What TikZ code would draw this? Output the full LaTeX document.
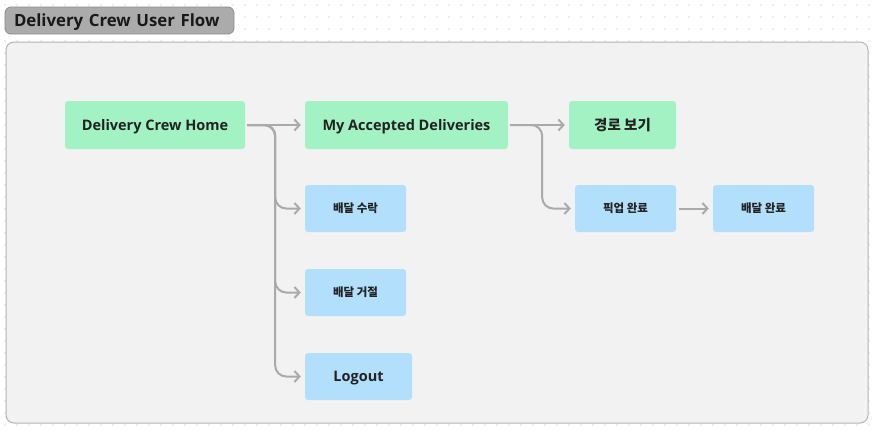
\documentclass[tikz,border=0pt]{standalone}
\usepackage{fontspec}
\setmainfont{Open Sans}
\newfontfamily\kr{Noto Sans CJK KR}
\usetikzlibrary{arrows.meta}
\definecolor{grn}{HTML}{A3F2C4}
\definecolor{blu}{HTML}{B2DFFC}
\definecolor{panel}{HTML}{F2F2F2}
\definecolor{pborder}{HTML}{B4B4B4}
\definecolor{conn}{HTML}{AAAAAA}
\definecolor{txt}{HTML}{222222}
\definecolor{dotc}{HTML}{DDDDDD}
\tikzset{
  box/.style={rounded corners=3pt, draw=none, text=txt, font=\bfseries, inner sep=0pt},
  gbox/.style={box, fill=grn},
  bbox/.style={box, fill=blu},
  lat/.style={font=\fontsize{14.5}{16}\selectfont\bfseries, text height=10.4pt, text depth=0pt},
  krs/.style={font=\kr\fontsize{11.5}{14}\selectfont\bfseries},
  conn/.style={draw=conn, line width=2pt, rounded corners=11pt, -{Straight Barb[length=5pt,width=11pt,line width=2pt]}},
}
\begin{document}
\begin{tikzpicture}[x=1pt,y=-1pt]
\useasboundingbox (0,0) rectangle (876,432);
\fill[white] (0,0) rectangle (876,432);
% dot grid
\foreach \i in {0,...,72}{\foreach \j in {0,...,35}{
  \fill[dotc] (5+12*\i,5+12*\j) circle (0.9);
}}
% panel
\draw[pborder, fill=panel, line width=1pt, rounded corners=8pt] (6,42) rectangle (868,423);
% title
\node[draw=black!45, fill=black!33, line width=0.8pt, rounded corners=6pt, minimum width=229, minimum height=27, inner sep=0pt, text width=211, align=left, font=\fontsize{16.8}{18}\selectfont\bfseries, text height=12pt, text depth=0pt, text=black!90] (title) at (119.5,20.5) {Delivery Crew User Flow};
% nodes
\node[gbox, lat, minimum width=180, minimum height=48] (home) at (155,125) {Delivery Crew Home};
\node[gbox, lat, minimum width=203, minimum height=48] (acc) at (406.5,125) {My Accepted Deliveries};
\node[gbox, minimum width=107, minimum height=48, font=\kr\fontsize{14.5}{16}\selectfont\bfseries] (route) at (622.5,125) {경로 보기};
\node[bbox, krs, minimum width=101, minimum height=47] (accept) at (355.5,208.5) {배달 수락};
\node[bbox, krs, minimum width=101, minimum height=47] (reject) at (355.5,292.5) {배달 거절};
\node[bbox, lat, minimum width=107, minimum height=47] (logout) at (358.5,376.5) {Logout};
\node[bbox, krs, minimum width=101, minimum height=47] (pickup) at (625.5,208.5) {픽업 완료};
\node[bbox, krs, minimum width=101, minimum height=47] (done) at (763.5,208.5) {배달 완료};
% connectors
\draw[conn, shorten <=2pt, shorten >=4pt] (home.east) -- (acc.west);
\draw[conn, shorten <=2pt, shorten >=4pt] (home.east) -- ++(30,0) |- (accept.west);
\draw[conn, shorten <=2pt, shorten >=4pt] (home.east) -- ++(30,0) |- (reject.west);
\draw[conn, shorten <=2pt, shorten >=4pt] (home.east) -- ++(30,0) |- (logout.west);
\draw[conn, shorten <=2pt, shorten >=4pt] (acc.east) -- (route.west);
\draw[conn, shorten <=2pt, shorten >=4pt] (acc.east) -- ++(34,0) |- (pickup.west);
\draw[conn, shorten <=3pt, shorten >=4pt] (pickup.east) -- (done.west);
\end{tikzpicture}
\end{document}
